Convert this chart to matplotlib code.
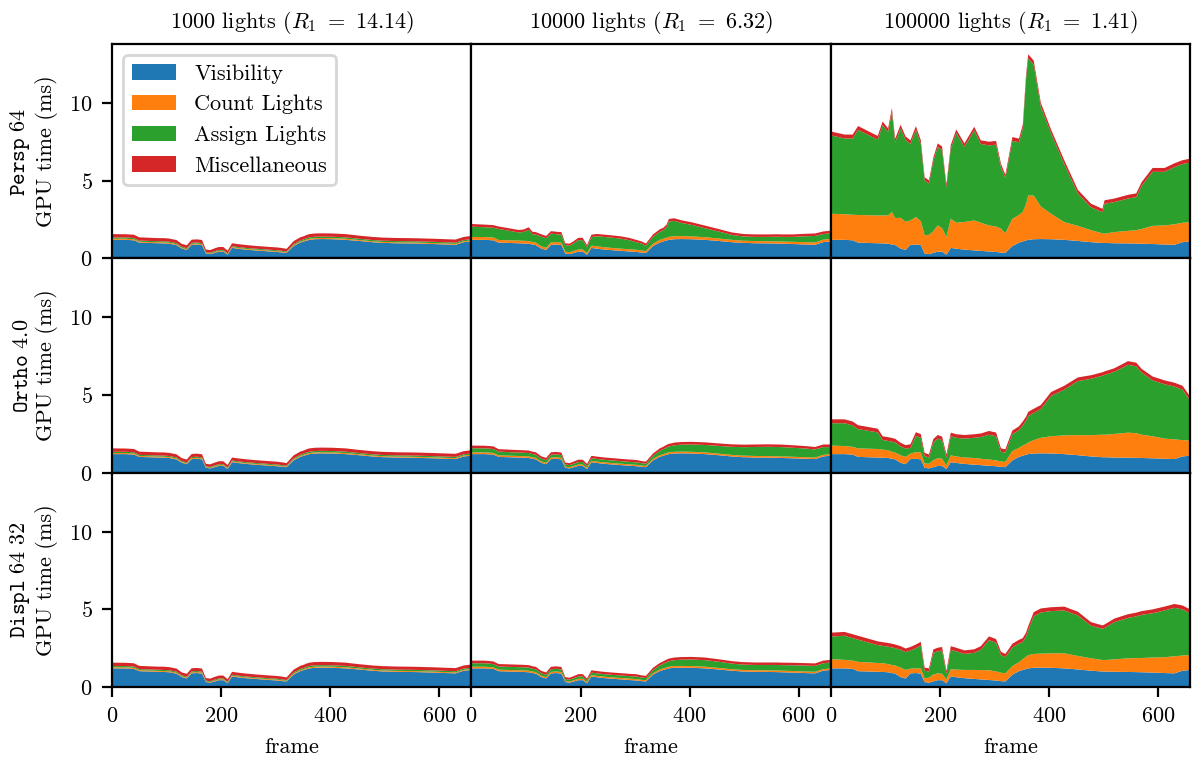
import matplotlib
matplotlib.use("Agg")
import matplotlib.pyplot as plt

plt.rcParams['font.family'] = 'serif'
plt.rcParams['font.serif'] = ['cmr10']
plt.rcParams['mathtext.fontset'] = 'cm'
plt.rcParams['axes.unicode_minus'] = False
plt.rcParams['axes.formatter.use_mathtext'] = True
plt.rcParams['font.size'] = 8
plt.rcParams['axes.titlesize'] = 8

frames = [0, 25, 40, 50, 86, 95, 105, 112, 118, 128, 137, 146, 156, 165, 172,
          180, 188, 196, 204, 212, 220, 230, 245, 263, 275, 290, 303, 312, 320,
          333, 345, 352, 358, 362, 372, 385, 404, 428, 453, 477, 498, 502, 520,
          545, 560, 570, 590, 612, 630, 645, 659]

# visibility pass (same camera path everywhere)
visibility = [1.20, 1.20, 1.17, 1.02, 0.98, 0.97, 0.95, 0.90, 0.86, 0.64,
              0.55, 0.88, 0.90, 0.86, 0.32, 0.28, 0.36, 0.44, 0.44, 0.24,
              0.68, 0.63, 0.57, 0.52, 0.49, 0.45, 0.42, 0.38, 0.36, 0.80,
              1.02, 1.10, 1.16, 1.20, 1.24, 1.25, 1.24, 1.20, 1.13, 1.05,
              1.00, 1.00, 0.98, 0.97, 0.96, 0.95, 0.93, 0.90, 0.88, 1.05, 1.10]

# 1000 lights
count_1k = [0.07, 0.07, 0.07, 0.06, 0.06, 0.06, 0.06, 0.06, 0.06, 0.05,
            0.05, 0.06, 0.06, 0.06, 0.04, 0.04, 0.05, 0.05, 0.05, 0.04,
            0.05, 0.05, 0.05, 0.05, 0.05, 0.05, 0.05, 0.05, 0.04, 0.06,
            0.06, 0.06, 0.07, 0.07, 0.07, 0.07, 0.07, 0.07, 0.06, 0.06,
            0.06, 0.06, 0.06, 0.06, 0.06, 0.06, 0.06, 0.06, 0.06, 0.06, 0.06]
assign_1k = [0.08, 0.08, 0.08, 0.07, 0.07, 0.07, 0.07, 0.07, 0.07, 0.06,
             0.06, 0.07, 0.07, 0.07, 0.05, 0.05, 0.06, 0.06, 0.06, 0.05,
             0.06, 0.06, 0.06, 0.06, 0.06, 0.06, 0.06, 0.06, 0.05, 0.07,
             0.08, 0.08, 0.09, 0.09, 0.09, 0.09, 0.09, 0.09, 0.08, 0.08,
             0.08, 0.08, 0.08, 0.08, 0.08, 0.08, 0.08, 0.08, 0.08, 0.08, 0.08]
misc_1k = [0.22, 0.21, 0.21, 0.21, 0.20, 0.21, 0.20, 0.20, 0.20, 0.19,
           0.19, 0.20, 0.20, 0.20, 0.17, 0.17, 0.18, 0.19, 0.19, 0.17,
           0.19, 0.19, 0.19, 0.18, 0.18, 0.18, 0.18, 0.18, 0.17, 0.19,
           0.20, 0.20, 0.21, 0.21, 0.21, 0.21, 0.21, 0.21, 0.20, 0.20,
           0.20, 0.20, 0.20, 0.20, 0.20, 0.20, 0.20, 0.20, 0.20, 0.20, 0.21]

# 10000 lights
misc_10k = [0.17, 0.17, 0.17, 0.16, 0.16, 0.16, 0.16, 0.16, 0.16, 0.15,
            0.15, 0.16, 0.16, 0.16, 0.13, 0.13, 0.14, 0.15, 0.15, 0.13,
            0.15, 0.15, 0.15, 0.15, 0.15, 0.15, 0.15, 0.14, 0.14, 0.15,
            0.16, 0.16, 0.17, 0.17, 0.17, 0.17, 0.17, 0.17, 0.16, 0.16,
            0.16, 0.16, 0.16, 0.16, 0.16, 0.16, 0.16, 0.16, 0.16, 0.17, 0.17]
count_10k_persp = [0.18, 0.18, 0.18, 0.17, 0.17, 0.17, 0.17, 0.16, 0.16, 0.15,
                   0.14, 0.16, 0.16, 0.16, 0.12, 0.12, 0.13, 0.14, 0.14, 0.11,
                   0.15, 0.15, 0.15, 0.14, 0.14, 0.14, 0.14, 0.13, 0.12, 0.15,
                   0.17, 0.17, 0.18, 0.19, 0.19, 0.19, 0.18, 0.17, 0.16, 0.15,
                   0.14, 0.14, 0.14, 0.14, 0.14, 0.14, 0.14, 0.15, 0.15, 0.16, 0.16]
assign_10k_persp = [0.67, 0.63, 0.63, 0.71, 0.53, 0.56, 0.73, 0.50, 0.52, 0.62,
                    0.61, 0.56, 0.50, 0.52, 0.41, 0.42, 0.50, 0.60, 0.60, 0.38,
                    0.55, 0.65, 0.66, 0.66, 0.64, 0.58, 0.48, 0.45, 0.34, 0.45,
                    0.52, 0.55, 0.68, 0.98, 0.99, 0.85, 0.74, 0.58, 0.45, 0.32,
                    0.28, 0.27, 0.27, 0.28, 0.30, 0.30, 0.32, 0.38, 0.42, 0.36, 0.36]
count_10k_ortho = [0.11, 0.11, 0.11, 0.10, 0.10, 0.10, 0.10, 0.10, 0.10, 0.09,
                   0.09, 0.10, 0.10, 0.10, 0.07, 0.07, 0.08, 0.09, 0.09, 0.07,
                   0.09, 0.09, 0.09, 0.09, 0.09, 0.09, 0.09, 0.08, 0.08, 0.09,
                   0.10, 0.10, 0.11, 0.11, 0.11, 0.11, 0.11, 0.11, 0.10, 0.10,
                   0.10, 0.10, 0.10, 0.10, 0.10, 0.10, 0.10, 0.10, 0.10, 0.10, 0.10]
assign_10k_ortho = [0.27, 0.26, 0.25, 0.24, 0.22, 0.22, 0.22, 0.20, 0.20, 0.18,
                    0.17, 0.18, 0.18, 0.18, 0.14, 0.14, 0.15, 0.16, 0.16, 0.13,
                    0.17, 0.17, 0.17, 0.17, 0.16, 0.16, 0.16, 0.15, 0.14, 0.20,
                    0.28, 0.32, 0.36, 0.38, 0.42, 0.45, 0.47, 0.48, 0.50, 0.52,
                    0.55, 0.55, 0.58, 0.60, 0.60, 0.60, 0.58, 0.56, 0.52, 0.50, 0.45]
count_10k_displ = [0.11, 0.11, 0.10, 0.10, 0.10, 0.10, 0.10, 0.10, 0.10, 0.09,
                   0.09, 0.10, 0.10, 0.10, 0.07, 0.07, 0.08, 0.09, 0.09, 0.07,
                   0.09, 0.09, 0.09, 0.09, 0.09, 0.09, 0.09, 0.08, 0.08, 0.09,
                   0.10, 0.10, 0.11, 0.11, 0.11, 0.11, 0.11, 0.11, 0.10, 0.10,
                   0.10, 0.10, 0.10, 0.10, 0.10, 0.10, 0.10, 0.10, 0.10, 0.10, 0.10]
assign_10k_displ = [0.22, 0.22, 0.21, 0.20, 0.20, 0.20, 0.20, 0.18, 0.18, 0.16,
                    0.15, 0.17, 0.17, 0.17, 0.12, 0.12, 0.13, 0.15, 0.15, 0.11,
                    0.16, 0.16, 0.16, 0.16, 0.16, 0.16, 0.16, 0.15, 0.14, 0.20,
                    0.26, 0.30, 0.33, 0.35, 0.38, 0.40, 0.42, 0.42, 0.40, 0.36,
                    0.34, 0.34, 0.34, 0.35, 0.36, 0.36, 0.37, 0.38, 0.38, 0.38, 0.38]

# 100000 lights
misc_100k = [0.25, 0.25, 0.25, 0.25, 0.24, 0.24, 0.24, 0.24, 0.24, 0.23,
             0.23, 0.23, 0.24, 0.24, 0.20, 0.20, 0.22, 0.23, 0.23, 0.20,
             0.23, 0.23, 0.23, 0.23, 0.23, 0.24, 0.24, 0.22, 0.21, 0.24,
             0.24, 0.25, 0.26, 0.27, 0.27, 0.26, 0.25, 0.25, 0.24, 0.23,
             0.22, 0.23, 0.23, 0.24, 0.24, 0.24, 0.25, 0.25, 0.25, 0.25, 0.25]
count_100k_persp = [1.68, 1.65, 1.65, 1.78, 1.79, 1.80, 1.82, 2.10, 1.74, 1.98,
                    1.81, 1.57, 1.77, 1.54, 1.18, 1.24, 1.39, 1.69, 1.51, 1.14,
                    1.88, 1.67, 1.78, 1.93, 1.81, 1.68, 1.63, 1.54, 1.26, 1.76,
                    1.78, 1.90, 2.34, 2.85, 2.81, 2.10, 1.64, 1.14, 0.97, 0.77,
                    0.62, 0.60, 0.72, 0.81, 0.86, 0.95, 1.17, 1.23, 1.32, 1.25, 1.24]
assign_100k_persp = [5.05, 4.88, 4.91, 5.48, 4.88, 5.81, 5.37, 6.44, 4.88, 5.76,
                     5.27, 4.93, 5.61, 4.98, 3.53, 3.31, 4.53, 5.05, 5.03, 3.20,
                     4.52, 5.78, 4.83, 5.80, 5.08, 5.15, 5.28, 3.96, 3.56, 5.02,
                     4.68, 5.36, 8.08, 8.83, 8.43, 6.43, 5.16, 3.74, 2.08, 1.48,
                     1.36, 1.92, 1.93, 2.08, 2.13, 2.78, 3.48, 3.45, 3.68, 3.78, 3.84]
count_100k_ortho = [0.55, 0.52, 0.50, 0.55, 0.55, 0.52, 0.50, 0.45, 0.44, 0.48,
                    0.47, 0.35, 0.43, 0.44, 0.28, 0.30, 0.45, 0.50, 0.46, 0.23,
                    0.44, 0.42, 0.41, 0.43, 0.41, 0.40, 0.38, 0.34, 0.34, 0.60,
                    0.58, 0.65, 0.69, 0.75, 0.86, 1.00, 1.11, 1.21, 1.29, 1.37,
                    1.45, 1.45, 1.52, 1.61, 1.59, 1.50, 1.42, 1.30, 1.27, 1.05, 0.98]
assign_100k_ortho = [1.44, 1.47, 1.38, 1.24, 1.07, 0.62, 0.60, 0.65, 0.65, 0.58,
                     0.53, 0.37, 1.04, 0.95, 0.48, 0.40, 1.14, 1.26, 1.20, 0.51,
                     1.23, 1.20, 1.22, 1.30, 1.40, 1.60, 1.55, 0.63, 0.60, 1.08,
                     1.15, 1.30, 1.50, 1.70, 1.75, 1.85, 2.60, 2.94, 3.48, 3.63,
                     3.80, 3.85, 4.00, 4.37, 4.30, 4.00, 3.60, 3.50, 3.40, 3.25, 2.57]
count_100k_displ = [0.59, 0.55, 0.53, 0.60, 0.57, 0.56, 0.53, 0.52, 0.52, 0.61,
                    0.55, 0.30, 0.30, 0.34, 0.24, 0.32, 0.44, 0.44, 0.41, 0.26,
                    0.46, 0.49, 0.53, 0.58, 0.60, 0.63, 0.58, 0.54, 0.52, 0.55,
                    0.58, 0.70, 0.79, 0.85, 0.89, 0.90, 0.93, 0.97, 0.87, 0.80,
                    0.74, 0.74, 0.80, 0.88, 0.90, 0.92, 0.97, 1.02, 1.10, 0.98, 0.96]
assign_100k_displ = [1.46, 1.55, 1.45, 1.43, 1.15, 1.12, 1.12, 1.13, 1.12, 1.15,
                     1.15, 1.17, 1.30, 1.47, 0.49, 0.40, 1.40, 1.42, 1.50, 0.34,
                     1.26, 1.18, 1.03, 1.10, 1.31, 1.94, 1.85, 1.13, 1.04, 1.20,
                     1.20, 1.10, 1.30, 1.60, 2.42, 2.65, 2.72, 2.76, 2.61, 2.10,
                     2.01, 2.06, 2.40, 2.60, 2.69, 2.78, 2.85, 3.01, 3.12, 2.97, 2.69]

row_names = ["Persp 64", "Ortho 4.0", "Displ 64 32"]
col_titles = ["1000 lights ($R_1\\ =\\ 14.14$)",
              "10000 lights ($R_1\\ =\\ 6.32$)",
              "100000 lights ($R_1\\ =\\ 1.41$)"]
stage_labels = ["Visibility", "Count Lights", "Assign Lights", "Miscellaneous"]
colors = ['#1f77b4', '#ff7f0e', '#2ca02c', '#d62728']

panels = [
    [(count_1k, assign_1k, misc_1k),
     (count_10k_persp, assign_10k_persp, misc_10k),
     (count_100k_persp, assign_100k_persp, misc_100k)],
    [(count_1k, assign_1k, misc_1k),
     (count_10k_ortho, assign_10k_ortho, misc_10k),
     (count_100k_ortho, assign_100k_ortho, misc_100k)],
    [(count_1k, assign_1k, misc_1k),
     (count_10k_displ, assign_10k_displ, misc_10k),
     (count_100k_displ, assign_100k_displ, misc_100k)],
]

fig, axes = plt.subplots(3, 3, sharex=True, sharey=True, figsize=(5.96, 3.81), dpi=200)
fig.subplots_adjust(left=0.094, right=0.9985, bottom=0.0984, top=0.942,
                    wspace=0, hspace=0)

for r in range(3):
    for c in range(3):
        ax = axes[r][c]
        count, assign, misc = panels[r][c]
        ax.stackplot(frames, visibility, count, assign, misc,
                     labels=stage_labels, colors=colors)
        ax.set_xlim(0, 659)
        ax.set_ylim(0, 13.8)
        ax.set_xticks([0, 200, 400, 600])
        ax.set_yticks([0, 5, 10])
        if r == 0:
            ax.set_title(col_titles[c])
        if r == 2:
            ax.set_xlabel("frame")
        else:
            ax.tick_params(bottom=False)
        if c == 0:
            name = row_names[r].replace(" ", r"\ ")
            ax.set_ylabel(r"$\mathtt{" + name + "}$" + "\nGPU time (ms)")
        else:
            ax.tick_params(left=False)

axes[0][0].legend(loc='upper left')

fig.savefig("out.png", dpi=200)
